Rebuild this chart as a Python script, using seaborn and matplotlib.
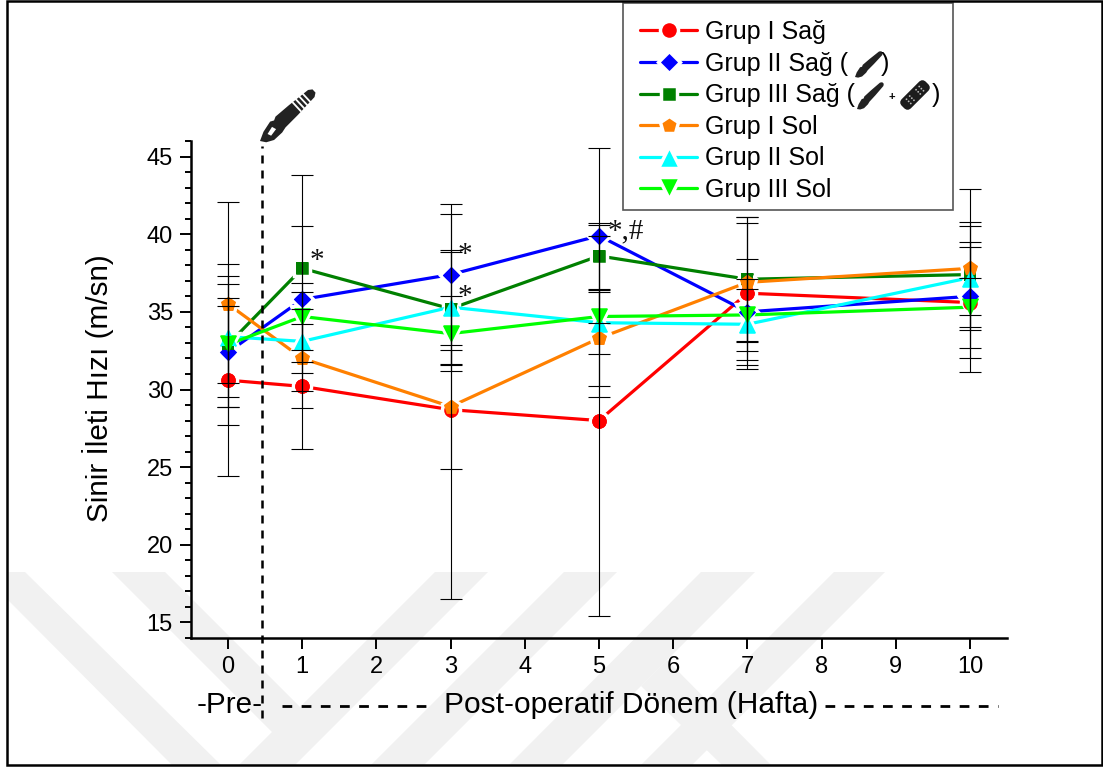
import matplotlib
matplotlib.use('Agg')
import matplotlib.pyplot as plt
import seaborn as sns
from matplotlib.lines import Line2D
from matplotlib.patches import Circle, Polygon, Rectangle, FancyBboxPatch
from matplotlib.ticker import MultipleLocator
from matplotlib.transforms import Affine2D
import numpy as np

weeks = [0, 1, 3, 5, 7, 10]

grup1_sag = [30.6, 30.2, 28.7, 28.0, 36.2, 35.6]
grup2_sag = [32.4, 35.8, 37.4, 39.9, 35.0, 36.0]
grup3_sag = [32.9, 37.8, 35.2, 38.6, 37.1, 37.4]
grup1_sol = [35.5, 32.0, 28.9, 33.3, 36.9, 37.8]
grup2_sol = [33.4, 33.1, 35.3, 34.3, 34.2, 37.2]
grup3_sol = [32.9, 34.7, 33.6, 34.7, 34.8, 35.3]

err1_sag = [6.2, 4.0, 3.85, 12.6, 4.9, 3.6]
err2_sag = [3.5, 4.75, 4.55, 5.65, 3.4, 1.2]
err3_sag = [5.2, 6.0, 3.65, 2.1, 4.0, 3.4]
err1_sol = [6.6, 3.2, 12.4, 3.1, 3.85, 5.1]
err2_sol = [3.9, 3.2, 3.65, 2.0, 2.3, 3.35]
err3_sol = [2.5, 2.15, 2.4, 5.2, 2.3, 4.2]

labels = ['Grup I Sağ', 'Grup II Sağ (', 'Grup III Sağ (',
          'Grup I Sol', 'Grup II Sol', 'Grup III Sol']
means = [grup1_sag, grup2_sag, grup3_sag, grup1_sol, grup2_sol, grup3_sol]
errors = [err1_sag, err2_sag, err3_sag, err1_sol, err2_sol, err3_sol]

colors = ['#FF0000', '#0000FF', '#008000', '#FF8000', '#00FFFF', '#00FF00']
markers = ['o', 'D', 's', 'p', '^', 'v']
halo_sizes = [13, 11.5, 11, 13.5, 15.5, 15.5]
top_sizes = [110, 78, 72, 130, 150, 150]

# (week, value, text, x offset, y offset)
sig_marks = [(1, 37.8, '*', 5, -4), (3, 37.4, '*', 5, 5), (3, 35.2, '*', 5, -1), (5, 39.9, '*,#', 6, -6)]

W, H = 1103, 767

sns.set_style('white')
plt.rcParams['font.family'] = ['Liberation Sans', 'DejaVu Sans']

fig = plt.figure(figsize=(W / 100, H / 100), dpi=100)
ax = fig.add_axes([191 / W, 1 - 638 / H, 816 / W, 497 / H])
ax.patch.set_alpha(0)


def px(x, y):
    return x / W, 1 - y / H


def add_poly(points, color, zorder=5):
    pts = [px(x, y) for x, y in points]
    fig.add_artist(Polygon(pts, closed=True, transform=fig.transFigure,
                           facecolor=color, edgecolor='none', zorder=zorder))


# watermark behind the plot
bands = [
    [(8, 572), (25, 572), (221, 765), (172, 765), (8, 600)],
    [(112, 572), (165, 572), (300, 707), (435, 572), (488, 572), (295, 765), (239, 765), (272, 732)],
    [(564, 572), (617, 572), (424, 765), (371, 765)],
    [(701, 572), (755, 572), (562, 765), (509, 765)],
    [(834, 572), (885, 572), (692, 765), (641, 765)],
    [(641, 686), (667, 660), (771, 765), (722, 765)],
]
for band in bands:
    add_poly(band, '#F1F1F1', zorder=-5)

# lines with a white ring round the markers, this breaks the line near the symbol
for mean, label, color, marker, size in zip(means, labels, colors, markers, halo_sizes):
    sns.lineplot(x=weeks, y=mean, ax=ax, color=color, marker=marker, markersize=size,
                 markeredgecolor='white', markeredgewidth=2.5, linewidth=2.3,
                 label=label, errorbar=None)

# markers again on top so overlapping ones stay visible
for i, (mean, color, marker, size) in enumerate(zip(means, colors, markers, top_sizes)):
    sns.scatterplot(x=weeks, y=mean, ax=ax, color=color, marker=marker, s=size,
                    linewidth=0, zorder=4 + i * 0.1, legend=False)

for mean, err in zip(means, errors):
    ax.errorbar(weeks, mean, yerr=err, fmt='none', ecolor='black', elinewidth=0.8,
                capsize=8, capthick=0.8, zorder=6)

ax.set_xlim(-0.5, 10.5)
ax.set_ylim(14, 46)
ax.set_xticks(range(0, 11))
ax.yaxis.set_major_locator(MultipleLocator(5))
ax.yaxis.set_minor_locator(MultipleLocator(1))
ax.tick_params(axis='both', which='major', direction='out', length=8, width=1.4,
               labelsize=17, color='black', labelcolor='black', left=True, bottom=True, pad=5)
ax.tick_params(axis='y', which='minor', direction='out', length=4, width=1.4, left=True, color='black')

sns.despine(ax=ax)
for side in ['left', 'bottom']:
    ax.spines[side].set_linewidth(1.8)
    ax.spines[side].set_color('black')

ax.set_xlabel('')
ax.set_ylabel('Sinir İleti Hızı (m/sn)', fontsize=21.4, color='black')
ax.yaxis.set_label_coords(-0.094, 0.503)

# operation time line
ax.axvline(0.46, ymin=-0.161, ymax=0.99, color='black', linewidth=1.8,
           linestyle=(0, (3.2, 2.8)), clip_on=False, zorder=3)

# significance marks
for week, value, text, dx, dy in sig_marks:
    ax.annotate(text, xy=(week, value), xytext=(dx, dy), textcoords='offset points',
                fontsize=21, family='Liberation Serif', color='#111111', ha='left', va='bottom')

# legend box drawn by hand so it can hold the small icons
xa, ya = px(623, 210)
ax.add_patch(Rectangle((xa, ya), 330 / W, 207 / H, transform=fig.transFigure, clip_on=False,
                       facecolor='white', edgecolor='#555555', linewidth=1.2, zorder=9))
leg = ax.legend(loc='upper left', bbox_to_anchor=px(623, 3), bbox_transform=fig.transFigure,
                borderaxespad=0, fontsize=18, handlelength=2.28, handletextpad=0.32,
                labelspacing=0.305, borderpad=0.68, frameon=False, numpoints=1)
leg.set_zorder(10)
for text in leg.get_texts():
    text.set_color('black')

fig.text(*px(885, 64), ')', fontsize=18, ha='center', va='center', color='black', zorder=25)
fig.text(*px(936, 95), ')', fontsize=18, ha='center', va='center', color='black', zorder=25)

fig.text(*px(230, 705), '-Pre-', fontsize=21.3, ha='center', va='center', color='black')
fig.text(*px(631.5, 705), 'Post-operatif Dönem (Hafta)', fontsize=21.5, ha='center', va='center', color='black')
for x0, x1 in [(282, 435), (825, 998)]:
    xa, y = px(x0, 706)
    xb, _ = px(x1, 706)
    fig.add_artist(Line2D([xa, xb], [y, y], transform=fig.transFigure, color='black',
                          linewidth=2, linestyle=(0, (3.5, 3.4))))

# outer frame
xa, ya = px(7, 765)
fig.add_artist(Rectangle((xa, ya), 1095 / W, 764.5 / H, transform=fig.transFigure,
                         fill=False, edgecolor='black', linewidth=1.8, zorder=20))


def scalpel(x0, y0, x1, y1, color='#222222', zorder=15):
    # outline given along the handle, (u along, v across)
    outline = [(0, 0), (0.12, -0.06), (0.28, -0.1), (0.33, -0.075), (0.38, -0.1), (0.62, -0.09),
               (0.95, -0.065), (1, -0.03), (1, 0.03), (0.95, 0.065), (0.62, 0.09), (0.38, 0.1),
               (0.3, 0.12), (0.15, 0.12), (0.05, 0.07)]
    d = np.array([x1 - x0, y1 - y0])
    n = np.array([-d[1], d[0]])
    start = np.array([x0, y0])
    add_poly([start + u * d + v * n for u, v in outline], color, zorder)
    return start, d, n


start, d, n = scalpel(260, 141, 314, 91)
for u in [0.67, 0.73, 0.79, 0.85]:
    add_poly([start + (u + a) * d + v * n for a, v in [(0, -0.09), (0.025, -0.09), (0.025, 0.09), (0, 0.09)]],
             'white', 16)
add_poly([start + u * d + v * n for u, v in [(0.14, 0.0), (0.25, -0.03), (0.27, 0.03), (0.16, 0.05)]], 'white', 16)

scalpel(855, 77, 882, 52, zorder=25)
scalpel(857, 109, 883, 83, zorder=25)
fig.text(*px(892, 97), '+', fontsize=8, fontweight='bold', ha='center', va='center', color='black', zorder=25)

# bandage in legend
cx, cy = 915, 95
tr = Affine2D().rotate_deg_around(cx, H - cy, 45)
fig.add_artist(FancyBboxPatch((cx - 17, H - cy - 6.5), 34, 13, boxstyle='round,pad=0,rounding_size=5',
                              transform=tr, facecolor='#1c1c1c', edgecolor='none', zorder=25))
for bx in [-9, -4.5, 4.5, 9]:
    for by in [-3, 0, 3]:
        fig.add_artist(Circle((cx + bx, H - cy + by), 0.9, transform=tr, facecolor='#bbbbbb',
                              edgecolor='none', zorder=26))

fig.savefig('out.png', dpi=100)
